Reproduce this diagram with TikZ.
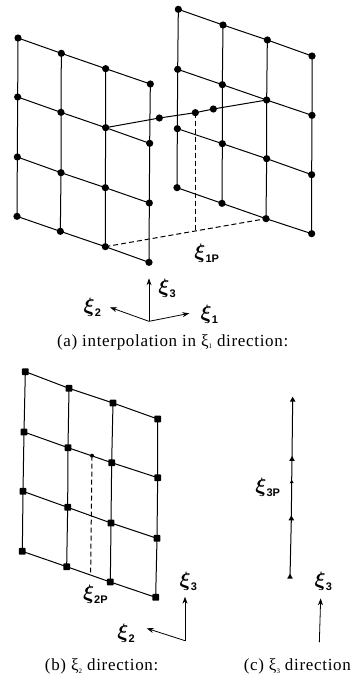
\documentclass[tikz,border=0pt]{standalone}
\usepackage{amsmath}
\usepackage{fontspec}
\setmainfont{Liberation Serif}
\newfontfamily\lblsans{Liberation Sans}
\newfontfamily\capfont[LetterSpace=4]{Liberation Serif}
\usetikzlibrary{arrows.meta,shapes.geometric}
\newcommand{\bxi}[1]{{\fontsize{20}{20}\selectfont$\boldsymbol{\xi}$}\raisebox{-4pt}{\lblsans\bfseries\fontsize{11}{11}\selectfont #1}}
\newcommand{\sxi}[1]{ξ\raisebox{-2.5pt}{\fontsize{7}{7}\selectfont #1}}
\tikzset{
  dotnode/.style={circle,fill=black,inner sep=0pt,minimum size=7.2pt},
  sqnode/.style={rectangle,rounded corners=0.8pt,fill=black,inner sep=0pt,minimum size=6.8pt},
  trimark/.style={regular polygon,regular polygon sides=3,fill=black,inner sep=0pt,minimum size=6.5pt},
  smalldot/.style={circle,fill=black,inner sep=0pt,minimum size=4pt},
  ln/.style={line width=1pt,black},
  dsh/.style={line width=1pt,black,dash pattern=on 5pt off 3pt},
  arr/.style={line width=0.8pt,black,-{Stealth[length=7pt,width=5pt]}},
  lbl/.style={inner sep=0pt,text=black},
  captext/.style={inner sep=0pt,text=black,font=\capfont\fontsize{17}{19}\selectfont}
}
\begin{document}
\begin{tikzpicture}[x=0.3333pt,y=-0.3333pt]
\useasboundingbox (0,0) rectangle (1062,2037);
\foreach \n/\x/\y in {
 L11/54/114,L12/184/160,L13/317/206,L14/451/252,
 L21/53/291,L22/183/337,L23/317/383,L24/449/430,
 L31/52/471,L32/183/518,L33/316/563,L34/448/609,
 L41/51/649,L42/181/694,L43/316/740,L44/447/787,
 R11/535/28,R12/669/75,R13/802/120,R14/936/168,
 R21/533/208,R22/667/254,R23/800/300,R24/936/346,
 R31/532/386,R32/667/431,R33/800/476,R34/935/524,
 R41/531/563,R42/666/610,R43/798/656,R44/935/701,
 M1/478/354,M2/586/338,M3/640/327}
  \node[dotnode] (\n) at (\x,\y) {};
\foreach \n/\x/\y in {
 B11/76/1115,B12/207/1165,B13/339/1209,B14/473/1257,
 B21/72/1296,B22/204/1343,B23/335/1388,B24/473/1433,
 B31/69/1474,B32/203/1522,B33/333/1569,B34/471/1615,
 B41/67/1654,B42/200/1700,B43/331/1746,B44/467/1792}
  \node[sqnode] (\n) at (\x,\y) {};
\foreach \g in {L,R,B}{
  \foreach \r in {1,2,3,4}
    \draw[ln] (\g\r1.center) -- (\g\r2.center) -- (\g\r3.center) -- (\g\r4.center);
  \foreach \c in {1,2,3,4}
    \draw[ln] (\g1\c.center) -- (\g2\c.center) -- (\g3\c.center) -- (\g4\c.center);
}
\draw[ln] (L23.center) -- (M1.center) -- (M2.center) -- (M3.center) -- (R23.center);
\coordinate (F1) at (586,690);
\draw[dsh] (M2.center) -- (F1);
\draw[dsh] (L43.center) -- (R43.center);
\node[lbl] (t1p) at (620,760) {\bxi{1P}};
\coordinate (Oa) at (447,964);
\coordinate (a3) at (447,835);
\coordinate (a2) at (330,922);
\coordinate (a1) at (568,940);
\draw[arr] (Oa) -- (a3);
\draw[arr] (Oa) -- (a2);
\draw[arr] (Oa) -- (a1);
\node[lbl] (ta3) at (501,866) {\bxi{3}};
\node[lbl] (ta2) at (277,923) {\bxi{2}};
\node[lbl] (ta1) at (628,943) {\bxi{1}};
\node[captext] (capa) at (518,1027) {(a) interpolation in \sxi{1} direction:};
\node[smalldot] (P2) at (276,1367) {};
\coordinate (P2b) at (272,1717);
\draw[dsh] (P2.center) -- (P2b);
\node[lbl] (t2p) at (286,1783) {\bxi{2P}};
\coordinate (Ob) at (555,1922);
\coordinate (b3) at (555,1790);
\coordinate (b2) at (440,1885);
\draw[arr] (Ob) -- (b3);
\draw[arr] (Ob) -- (b2);
\node[lbl] (tb3) at (565,1743) {\bxi{3}};
\node[lbl] (tb2) at (378,1900) {\bxi{2}};
\node[captext] (capb) at (305,2000) {(b) \sxi{2} direction:};
\node[trimark] (C1) at (878,1200) {};
\node[trimark] (C2) at (876,1378) {};
\node[trimark,minimum size=4.5pt] (C3) at (875,1446) {};
\node[trimark] (C4) at (874,1556) {};
\node[trimark] (C5) at (870,1731) {};
\draw[ln] (C1.center) -- (C2.center) -- (C3.center) -- (C4.center) -- (C5.center);
\node[lbl] (t3p) at (803,1462) {\bxi{3P}};
\coordinate (Oc) at (958,1927);
\coordinate (c3) at (962,1795);
\draw[arr] (Oc) -- (c3);
\node[lbl] (tc3) at (970,1743) {\bxi{3}};
\node[captext] (capc) at (892,2000) {(c) \sxi{3} direction};
\end{tikzpicture}
\end{document}
